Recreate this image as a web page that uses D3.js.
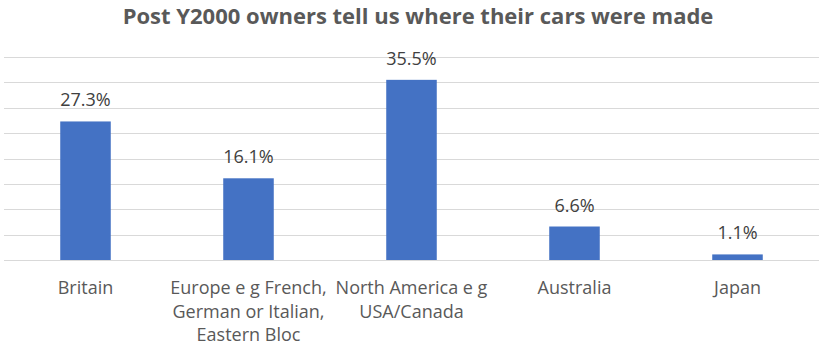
<!DOCTYPE html>
<html>
<head>
<meta charset="utf-8">
<script src="https://cdn.jsdelivr.net/npm/d3@7"></script>
<style>
  body { margin: 0; background: #fff; }
  text { font-family: "Open Sans", "Liberation Sans", sans-serif; }
</style>
</head>
<body>
<div id="chart"></div>
<script>
// chart data
var categories = ["Britain", "Europe e g  French, German or Italian, Eastern Bloc", "North America e g USA/Canada", "Australia", "Japan"];
var categoryLines = [
  ["Britain"],
  ["Europe e g  French,", "German or Italian,", "Eastern Bloc"],
  ["North America e g", "USA/Canada"],
  ["Australia"],
  ["Japan"]
];
var values = [27.3, 16.1, 35.5, 6.6, 1.1];
var gridTicks = [0, 5, 10, 15, 20, 25, 30, 35, 40];

var svgWidth = 820;
var svgHeight = 347;

var margin = { top: 57, right: 1, bottom: 87, left: 4 };
var width = svgWidth - margin.left - margin.right;
var height = svgHeight - margin.top - margin.bottom;

var svg = d3.select("#chart")
  .append("svg")
  .attr("width", svgWidth)
  .attr("height", svgHeight);

// title
svg.append("text")
  .attr("x", 418)
  .attr("y", 24)
  .attr("text-anchor", "middle")
  .style("font-size", "22px")
  .style("font-weight", "bold")
  .style("fill", "#595959")
  .text("Post Y2000 owners tell us where their cars were made");

var chartGroup = svg.append("g")
  .attr("transform", `translate(${margin.left}, ${margin.top})`);

var xScale = d3.scaleBand()
  .domain(categories)
  .range([0, width])
  .paddingInner(0.69)
  .paddingOuter(0.345);

var yScale = d3.scaleLinear()
  .domain([0, 40])
  .range([height, 0]);

// gridlines
chartGroup.append("g")
  .selectAll("line")
  .data(gridTicks)
  .enter()
  .append("line")
  .attr("x1", 0)
  .attr("x2", width)
  .attr("y1", d => Math.round(yScale(d)) + 0.5)
  .attr("y2", d => Math.round(yScale(d)) + 0.5)
  .attr("stroke", "#d9d9d9")
  .attr("stroke-width", 1);

// bars
chartGroup.selectAll("rect")
  .data(values)
  .enter()
  .append("rect")
  .attr("x", (d, i) => xScale(categories[i]))
  .attr("y", d => yScale(d))
  .attr("width", xScale.bandwidth())
  .attr("height", d => height - yScale(d))
  .attr("fill", "#4472c4");

// value labels
chartGroup.selectAll(".value-label")
  .data(values)
  .enter()
  .append("text")
  .attr("class", "value-label")
  .attr("x", (d, i) => xScale(categories[i]) + xScale.bandwidth() / 2)
  .attr("y", d => yScale(d) - 15)
  .attr("text-anchor", "middle")
  .style("font-size", "18px")
  .style("fill", "#404040")
  .text(d => d.toFixed(1) + "%");

// category labels
var catGroup = chartGroup.selectAll(".cat-label")
  .data(categoryLines)
  .enter()
  .append("text")
  .attr("class", "cat-label")
  .attr("text-anchor", "middle")
  .attr("transform", (d, i) => `translate(${xScale(categories[i]) + xScale.bandwidth() / 2}, ${height + 34})`)
  .style("font-size", "18px")
  .style("fill", "#595959");

catGroup.selectAll("tspan")
  .data(d => d)
  .enter()
  .append("tspan")
  .attr("x", 0)
  .attr("y", (d, i) => i * 23.5)
  .text(d => d);
</script>
</body>
</html>
